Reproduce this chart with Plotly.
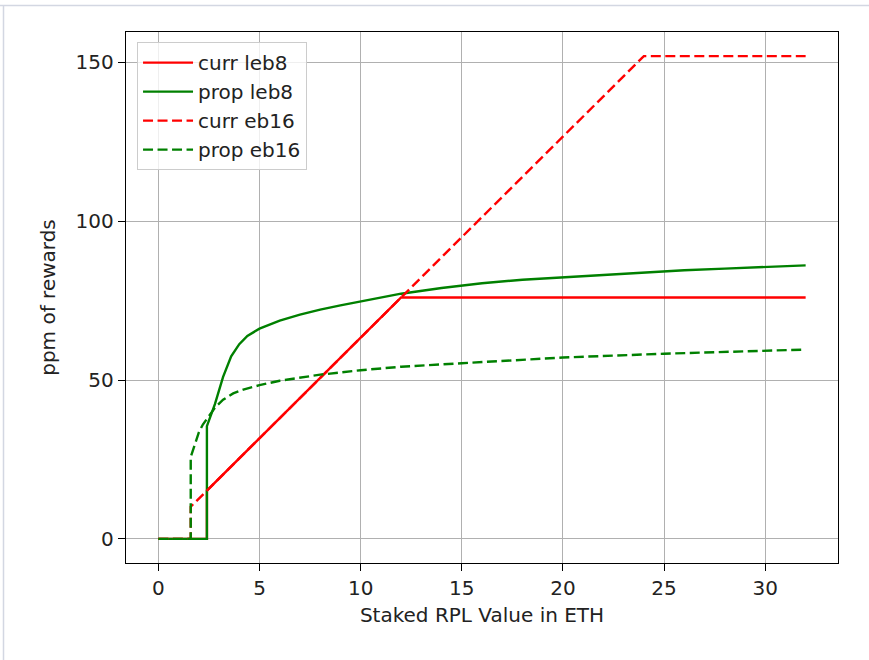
import plotly.graph_objects as go

# ---- data ----
x_curr_leb8 = [0, 2.4, 2.4, 12, 32]
y_curr_leb8 = [0, 0, 15.2, 76, 76]

x_prop_leb8 = [0, 2.4, 2.4, 2.8, 3.2, 3.6, 4.0, 4.4, 5, 6, 7, 8, 9, 10, 12, 14, 16, 18,
               20, 22, 24, 26, 28, 30, 32]
y_prop_leb8 = [0, 0, 35.5, 42.5, 51, 57.5, 61.3, 63.9, 66.2, 68.7, 70.6, 72.2, 73.5, 74.7,
               77.2, 79.0, 80.5, 81.6, 82.4, 83.2, 83.9, 84.6, 85.1, 85.6, 86.1]

x_curr_eb16 = [0, 1.6, 1.6, 24, 32]
y_curr_eb16 = [0, 0, 10.13, 152, 152]

x_prop_eb16 = [0, 1.6, 1.6, 1.8, 2.0, 2.2, 2.4, 2.8, 3.2, 3.7, 4.2, 5, 6, 7, 8, 10, 12,
               15, 20, 25, 30, 32]
y_prop_eb16 = [0, 0, 25.8, 30, 33.5, 36, 37.8, 41.3, 43.8, 45.8, 47, 48.4, 49.8, 50.8,
               51.7, 53.1, 54.2, 55.3, 57.1, 58.3, 59.3, 59.6]

series = [
    ("curr leb8", x_curr_leb8, y_curr_leb8, "red", "solid"),
    ("prop leb8", x_prop_leb8, y_prop_leb8, "green", "solid"),
    ("curr eb16", x_curr_eb16, y_curr_eb16, "red", "10px,4.5px"),
    ("prop eb16", x_prop_eb16, y_prop_eb16, "green", "10px,4.5px"),
]

x_ticks = [0, 5, 10, 15, 20, 25, 30]
y_ticks = [0, 50, 100, 150]

fig = go.Figure()
for name, xs, ys, color, dash in series:
    fig.add_trace(go.Scatter(x=xs, y=ys, mode="lines", name=name,
                             line=dict(color=color, width=2.4, dash=dash)))

axis_common = dict(
    showline=True, mirror=True, linecolor="black", linewidth=1.4,
    ticks="outside", ticklen=7, tickwidth=1.4, tickcolor="black",
    showgrid=True, gridcolor="#b0b0b0", gridwidth=1.4, zeroline=False,
    tickfont=dict(size=20, color="#222"),
)

fig.update_layout(
    width=869, height=660,
    margin=dict(l=126, r=31, t=32, b=97),
    paper_bgcolor="white", plot_bgcolor="white",
    font=dict(family="DejaVu Sans", size=20, color="#222"),
    showlegend=True,
    legend=dict(x=0.0155, y=0.981, xanchor="left", yanchor="top",
                bgcolor="rgba(255,255,255,0.8)", bordercolor="#cccccc", borderwidth=1,
                itemwidth=50,
                font=dict(size=20, color="#222"), traceorder="normal"),
    xaxis=dict(range=[-1.6, 33.6], tickvals=x_ticks,
               title=dict(text="Staked RPL Value in ETH", font=dict(size=20), standoff=8),
               **axis_common),
    yaxis=dict(range=[-7.6, 159.6], tickvals=y_ticks,
               title=dict(text="ppm of rewards", font=dict(size=20), standoff=14),
               **axis_common),
    shapes=[
        dict(type="line", xref="paper", yref="paper",
             x0=(0 - 126) / 712, x1=(869 - 126) / 712,
             y0=1 + (32 - 5.5) / 531, y1=1 + (32 - 5.5) / 531,
             line=dict(color="#d3d7e2", width=1.5)),
        dict(type="line", xref="paper", yref="paper",
             x0=(3.5 - 126) / 712, x1=(3.5 - 126) / 712,
             y0=1 + (32 - 5.5) / 531, y1=1 - (660 - 32) / 531,
             line=dict(color="#d3d7e2", width=1.5)),
    ],
)

fig.write_html("out.html")
